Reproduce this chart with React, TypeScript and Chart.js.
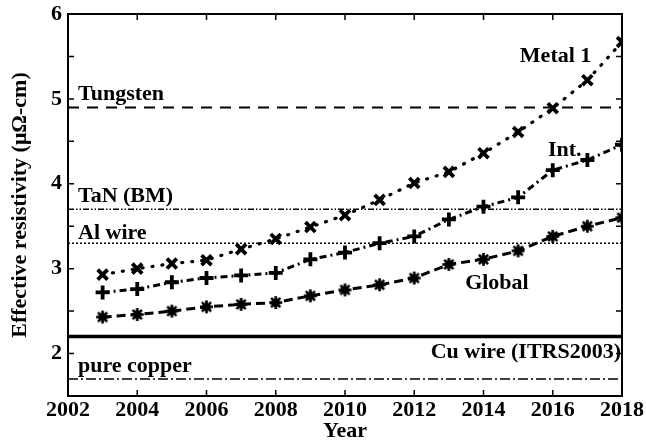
import React, { useEffect, useRef } from "react";
import { Chart, registerables } from "chart.js";

Chart.register(...registerables);

// Years covered by the projections
const years = [2003, 2004, 2005, 2006, 2007, 2008, 2009, 2010, 2011, 2012, 2013, 2014, 2015, 2016, 2017, 2018];

// Effective resistivity (µΩ-cm) per wiring level
const metal1 = [2.93, 3.0, 3.06, 3.1, 3.23, 3.35, 3.49, 3.63, 3.81, 4.01, 4.14, 4.36, 4.61, 4.89, 5.22, 5.67];
const intermediate = [2.72, 2.76, 2.84, 2.89, 2.92, 2.95, 3.11, 3.19, 3.3, 3.38, 3.58, 3.73, 3.84, 4.16, 4.28, 4.46];
const globalLevel = [2.43, 2.46, 2.5, 2.55, 2.58, 2.6, 2.68, 2.75, 2.81, 2.89, 3.05, 3.11, 3.21, 3.38, 3.5, 3.6];

// Reference material resistivities (µΩ-cm)
const refNames = ["Tungsten", "TaN (BM)", "Al wire", "Cu wire (ITRS2003)", "pure copper"];
const refValues = [4.9, 3.7, 3.3, 2.2, 1.7];

const xRange = [2002, 2018];
const yRange = [1.5, 6];

const FONT = "'Liberation Serif', 'Times New Roman', serif";
const FS = 22;

function makeGlobalMarker(): HTMLCanvasElement {
  const c = document.createElement("canvas");
  c.width = 15;
  c.height = 15;
  const g = c.getContext("2d")!;
  g.fillStyle = "#000";
  g.strokeStyle = "#000";
  g.lineWidth = 2.6;
  g.beginPath();
  g.arc(7.5, 7.5, 4.3, 0, Math.PI * 2);
  g.fill();
  for (let i = 0; i < 8; i++) {
    const a = (i * Math.PI) / 4;
    g.beginPath();
    g.moveTo(7.5, 7.5);
    g.lineTo(7.5 + Math.cos(a) * 6.5, 7.5 + Math.sin(a) * 6.5);
    g.stroke();
  }
  return c;
}

const refStyles = [
  { dash: [11, 8], width: 2 },
  { dash: [6, 2, 1.5, 2, 1.5, 2], width: 1.6 },
  { dash: [2, 2], width: 1.6 },
  { dash: [], width: 3.5 },
  { dash: [10, 3, 2, 3], width: 1.6 },
];

// Frame, inward ticks and in-plot annotations
const framePlugin = {
  id: "frameAndNotes",
  afterDraw(chart: any) {
    const { ctx, chartArea: a, scales } = chart;
    const xs = scales.x;
    const ys = scales.y;
    ctx.save();
    ctx.strokeStyle = "#000";
    ctx.lineWidth = 2;
    ctx.strokeRect(a.left, a.top, a.right - a.left, a.bottom - a.top);

    ctx.lineWidth = 1.5;
    const tl = 6;
    for (let v = yRange[0]; v <= yRange[1] + 1e-9; v += 0.5) {
      const py = ys.getPixelForValue(v);
      ctx.beginPath();
      ctx.moveTo(a.left, py);
      ctx.lineTo(a.left + tl, py);
      ctx.moveTo(a.right, py);
      ctx.lineTo(a.right - tl, py);
      ctx.stroke();
    }
    for (let v = xRange[0]; v <= xRange[1]; v += 2) {
      const px = xs.getPixelForValue(v);
      ctx.beginPath();
      ctx.moveTo(px, a.bottom);
      ctx.lineTo(px, a.bottom - tl);
      ctx.moveTo(px, a.top);
      ctx.lineTo(px, a.top + tl);
      ctx.stroke();
    }

    ctx.fillStyle = "#000";
    ctx.font = `bold ${FS}px ${FONT}`;
    ctx.textBaseline = "alphabetic";
    ctx.textAlign = "left";
    const lx = a.left + 10;
    ctx.fillText(refNames[0], lx, ys.getPixelForValue(refValues[0]) - 7);
    ctx.fillText(refNames[1], lx, ys.getPixelForValue(refValues[1]) - 7);
    ctx.fillText(refNames[2], lx, ys.getPixelForValue(refValues[2]) - 4);
    ctx.fillText(refNames[4], lx, ys.getPixelForValue(refValues[4]) - 7);
    ctx.textAlign = "right";
    ctx.fillText(refNames[3], a.right - 1, ys.getPixelForValue(refValues[3]) + 21);

    ctx.textAlign = "left";
    ctx.fillText("Metal 1", xs.getPixelForValue(2015.05), ys.getPixelForValue(5.44));
    ctx.fillText("Int.", xs.getPixelForValue(2015.86), ys.getPixelForValue(4.33));
    ctx.fillText("Global", xs.getPixelForValue(2013.47), ys.getPixelForValue(2.76));
    ctx.restore();
  },
};

export default function App() {
  const ref = useRef<HTMLCanvasElement>(null);

  useEffect(() => {
    if (!ref.current) return;
    const globalMarker = makeGlobalMarker();

    const refSets = refValues.map((v, i) => ({
      label: refNames[i],
      data: [
        { x: xRange[0], y: v },
        { x: xRange[1], y: v },
      ],
      borderColor: "#000",
      borderWidth: refStyles[i].width,
      borderDash: refStyles[i].dash,
      pointRadius: 0,
      fill: false,
    }));

    const series = [
      {
        label: "Metal 1",
        data: years.map((x, i) => ({ x, y: metal1[i] })),
        borderColor: "#000",
        borderWidth: 3.2,
        borderDash: [1, 9],
        borderCapStyle: "round",
        pointStyle: "crossRot",
        pointRadius: 7,
        pointBorderWidth: 3.8,
        pointBorderColor: "#000",
        pointBackgroundColor: "#000",
      },
      {
        label: "Int.",
        data: years.map((x, i) => ({ x, y: intermediate[i] })),
        borderColor: "#000",
        borderWidth: 3,
        borderDash: [7, 4, 2, 4],
        pointStyle: "cross",
        pointRadius: 7,
        pointBorderWidth: 3.8,
        pointBorderColor: "#000",
        pointBackgroundColor: "#000",
      },
      {
        label: "Global",
        data: years.map((x, i) => ({ x, y: globalLevel[i] })),
        borderColor: "#000",
        borderWidth: 3,
        borderDash: [9, 5],
        pointStyle: globalMarker,
        pointRadius: 7,
      },
    ];

    const chart = new Chart(ref.current, {
      type: "line",
      data: { datasets: [...refSets, ...series] as any },
      options: {
        animation: false,
        responsive: true,
        maintainAspectRatio: false,
        layout: { padding: { top: 14, right: 24, left: 0, bottom: 0 } },
        plugins: { legend: { display: false }, tooltip: { enabled: false } },
        scales: {
          x: {
            type: "linear",
            min: xRange[0],
            max: xRange[1],
            grid: { display: false, drawTicks: false },
            border: { display: false },
            ticks: {
              stepSize: 2,
              padding: 1,
              color: "#000",
              font: { family: FONT, size: FS, weight: "bold" },
              callback: (v: any) => String(v),
              maxRotation: 0,
            },
            title: {
              display: true,
              text: "Year",
              color: "#000",
              font: { family: FONT, size: FS, weight: "bold" },
              padding: { top: 0, bottom: 1 },
            },
            afterFit: (s: any) => {
              s.height = 50;
              s.paddingLeft = 0;
              s.paddingRight = 0;
            },
          },
          y: {
            type: "linear",
            min: yRange[0],
            max: yRange[1],
            grid: { display: false, drawTicks: false },
            border: { display: false },
            ticks: {
              stepSize: 0.5,
              padding: 6,
              color: "#000",
              font: { family: FONT, size: FS, weight: "bold" },
              callback: (v: any) => (Number.isInteger(v) ? String(v) : ""),
            },
            title: {
              display: true,
              text: "Effective resistivity (μΩ-cm)",
              color: "#000",
              font: { family: FONT, size: FS, weight: "bold" },
              padding: { top: 7, bottom: 0 },
            },
            afterFit: (s: any) => {
              s.width = 68;
              s.paddingTop = 0;
              s.paddingBottom = 0;
            },
          },
        },
      },
      plugins: [framePlugin],
    });

    return () => chart.destroy();
  }, []);

  return (
    <div style={{ position: "fixed", left: 0, top: 0, width: 646, height: 446, background: "#fff" }}>
      <canvas ref={ref} />
    </div>
  );
}
